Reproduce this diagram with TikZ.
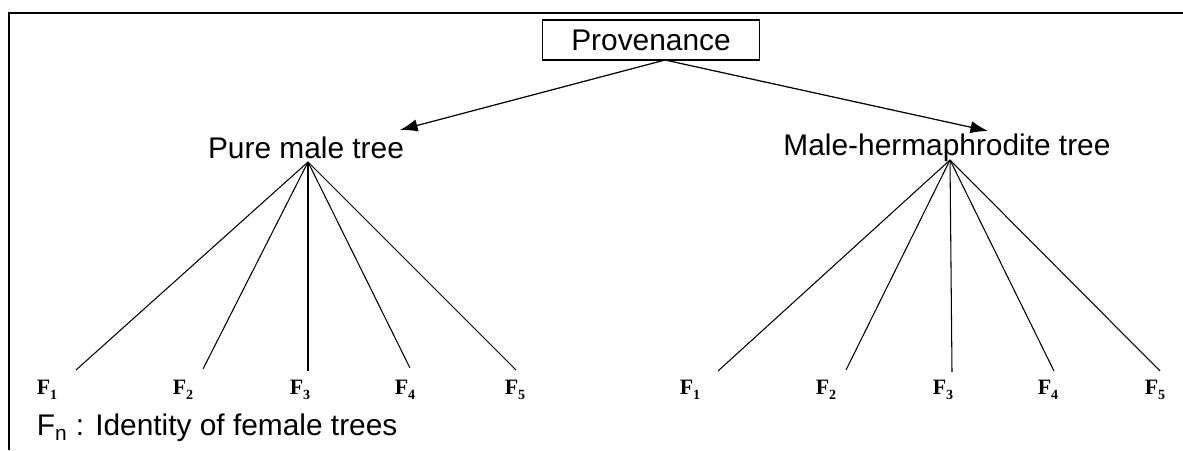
\documentclass[tikz,border=0pt]{standalone}
\usepackage{fontspec}
\setmainfont{Liberation Sans}
\newfontfamily\fserif{Liberation Serif}
\usetikzlibrary{arrows.meta, positioning}

\newcommand{\fem}[1]{{\fserif\bfseries F\raisebox{-0.45ex}{\footnotesize #1}}}

\tikzset{
    bigtext/.style={font=\fontsize{17}{20}\selectfont, inner sep=2pt},
    femlabel/.style={font=\fontsize{12.5}{14}\selectfont, inner sep=1pt},
    fan/.style={line width=0.6pt},
    branch/.style={line width=0.7pt, -{Latex[length=10pt,width=7pt]}}
}

\begin{document}
\begin{tikzpicture}[x=0.02cm, y=-0.02cm]
    \useasboundingbox (0,0) rectangle (1183,450);
    \draw[line width=1.2pt] (9,450) -- (9,13) -- (1183,13);

    \node[bigtext, draw, line width=0.8pt, minimum width=4.34cm, minimum height=0.8cm] (prov) at (651,40) {Provenance};
    \node[bigtext] (pure) at (306,148) {Pure male tree};
    \node[bigtext] (mh) at (947,148) {Male-hermaphrodite tree};

    \coordinate (split) at (665,60);
    \coordinate (ltip) at (400,130);
    \coordinate (rtip) at (988,131);
    \draw[branch] (split) -- (ltip);
    \draw[branch] (split) -- (rtip);

    \coordinate (lapex) at (308,162);
    \coordinate (rapex) at (950,160);
    \foreach \i/\ex/\ey/\lx in {1/76/370/47, 2/203/369/183, 3/308/371/300, 4/410/368/405, 5/516/370/515} {
        \coordinate (lend\i) at (\ex,\ey);
        \node[femlabel] (lf\i) at (\lx,390) {\fem{\i}};
        \draw[fan] (lapex) -- (lend\i);
    }
    \foreach \i/\ex/\ey/\lx in {1/718/371/690, 2/846/370/826, 3/952/372/943, 4/1054/371/1048, 5/1160/371/1155} {
        \coordinate (rend\i) at (\ex,\ey);
        \node[femlabel] (rf\i) at (\lx,390) {\fem{\i}};
        \draw[fan] (rapex) -- (rend\i);
    }

    \node[bigtext, anchor=west] (legend) at (33,428) {F\textsubscript{n} : Identity of female trees};
\end{tikzpicture}
\end{document}
